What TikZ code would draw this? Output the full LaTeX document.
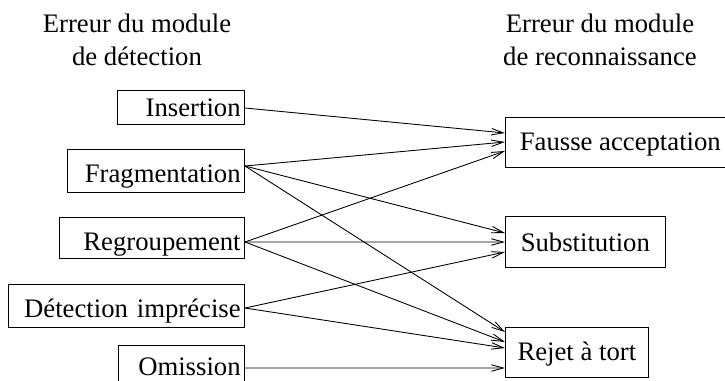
\documentclass[tikz,border=0pt]{standalone}
\usepackage{fontspec}
\setmainfont{Liberation Serif}
\usepackage{tikz}
\usetikzlibrary{calc}
\usetikzlibrary{arrows.meta}
\tikzstyle{every node}=[font=\fontsize{15.2pt}{18.8pt}\selectfont]
\tikzstyle{gauche}=[draw, inner xsep=0.08cm, inner ysep=0pt, text height=0.66cm, text depth=0.18cm, align=right, anchor=base east]
\tikzstyle{droite}=[draw, inner sep=0pt, text height=0.66cm, text depth=0.34cm, anchor=base west]
\tikzstyle{fleche}=[-{Straight Barb[length=0.24cm,width=0.13cm]}, line width=0.5pt]

\begin{document}
\begin{tikzpicture}[x=0.02cm, y=-0.02cm]
            \useasboundingbox (0,0) rectangle (725,380);

            % titres
            \node (titredet) [anchor=north, align=center, inner sep=0pt] at (137,14) {Erreur du module\\de détection};
            \node (titrerec) [anchor=north, align=center, inner sep=0pt] at (600,14) {Erreur du module\\de reconnaissance};

            % erreurs de detection
            \node (ins) [gauche, text width=2.38cm, text height=0.52cm, text depth=0.16cm] at (245,116) {Insertion};
            \node (frag) [gauche, text width=3.38cm, text depth=0.2cm] at (245,182) {Fragmentation};
            \node (regr) [gauche, text width=3.54cm, text depth=0.16cm] at (245,250) {Regroupement};
            \node (det) [gauche, text width=4.56cm, text depth=0.2cm] at (245,317) {Détection imprécise};
            \node (omis) [gauche, text width=2.36cm, text height=0.6cm] at (245,375) {Omission};

            % erreurs de reconnaissance
            \node (fa) [droite, minimum width=4.6cm] at (505,150) {Fausse acceptation};
            \node (sub) [droite, minimum width=3.2cm, text height=0.7cm, text depth=0.32cm] at (505,251) {Substitution};
            \node (rej) [droite, minimum width=2.86cm] at (505,360) {Rejet à tort};

            \coordinate (insD) at ([yshift=0.16cm]ins.base east);
            \coordinate (fragD) at ([yshift=0.32cm]frag.base east);
            \coordinate (regrD) at ([yshift=0.16cm]regr.base east);
            \coordinate (detD) at ([yshift=0.18cm]det.base east);
            \coordinate (omisD) at ([yshift=0.14cm]omis.base east);

            \coordinate (faA) at ([yshift=0.34cm]fa.base west);
            \coordinate (faB) at ([yshift=0.16cm]fa.base west);
            \coordinate (faC) at ([yshift=-0.02cm]fa.base west);
            \coordinate (subA) at ([yshift=0.36cm]sub.base west);
            \coordinate (subB) at ([yshift=0.18cm]sub.base west);
            \coordinate (subC) at ([yshift=-0.02cm]sub.base west);
            \coordinate (rejA) at ([yshift=0.56cm]rej.base west);
            \coordinate (rejB) at ([yshift=0.36cm]rej.base west);
            \coordinate (rejC) at ([yshift=0.24cm]rej.base west);
            \coordinate (rejD) at ([yshift=-0.16cm]rej.base west);

            \draw [fleche] (insD) -- (faA);
            \draw [fleche] (fragD) -- (faB);
            \draw [fleche] (fragD) -- (subA);
            \draw [fleche] (fragD) -- (rejA);
            \draw [fleche] (regrD) -- (faC);
            \draw [fleche] (regrD) -- (subB);
            \draw [fleche] (regrD) -- (rejB);
            \draw [fleche] (detD) -- (subC);
            \draw [fleche] (detD) -- (rejC);
            \draw [fleche] (omisD) -- (rejD);
        \end{tikzpicture}
\end{document}
